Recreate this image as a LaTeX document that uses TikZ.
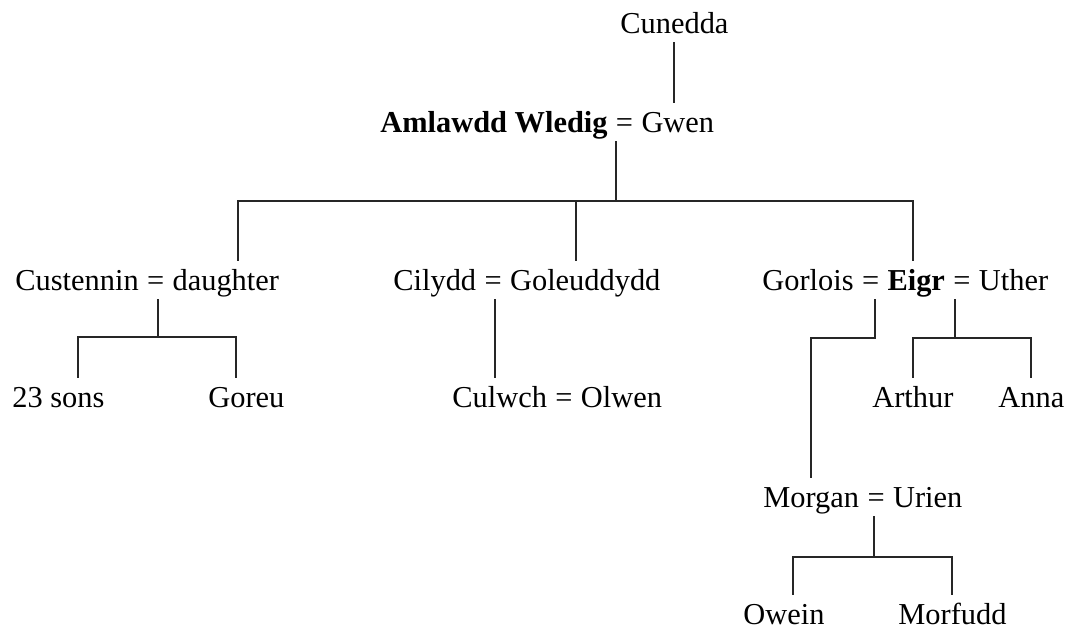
\documentclass[tikz,border=0pt]{standalone}
\usepackage{fontspec}
\setmainfont{Liberation Serif}
\begin{document}
\begin{tikzpicture}[x=0.5pt,y=-0.5pt,
  nm/.style={inner xsep=0pt, inner ysep=4.5pt, text height=10pt, text depth=0pt,
             anchor=base west, font=\fontsize{15.2}{18}\selectfont},
  eq/.style={nm, inner xsep=3.8pt},
  bnm/.style={nm, font=\fontsize{15.2}{18}\selectfont\bfseries},
  ln/.style={line width=1pt, draw=black!85}]
\useasboundingbox (0,0) rectangle (1068,629);
% row 0
\node[nm] (cunedda) at (620,33) {Cunedda};
% row 1
\node[bnm] (aw) at (380,132) {Amlawdd Wledig};
\node[eq] (ae) at (aw.base east) {=};
\node[nm] (gwen) at (ae.base east) {Gwen};
% row 2
\node[nm] (cust) at (15,290) {Custennin};
\node[eq] (ce) at (cust.base east) {=};
\node[nm] (daughter) at (ce.base east) {daughter};
\node[nm] (cilydd) at (393,290) {Cilydd};
\node[eq] (ce2) at (cilydd.base east) {=};
\node[nm] (goleu) at (ce2.base east) {Goleuddydd};
\node[nm] (gorlois) at (762,290) {Gorlois};
\node[eq] (ge1) at (gorlois.base east) {=};
\node[bnm] (eigr) at (ge1.base east) {Eigr};
\node[eq] (ge2) at (eigr.base east) {=};
\node[nm] (uther) at (ge2.base east) {Uther};
% row 3
\node[nm] (sons) at (12,407) {23 sons};
\node[nm] (goreu) at (208,407) {Goreu};
\node[nm] (culwch) at (452,407) {Culwch};
\node[eq] (cu2) at (culwch.base east) {=};
\node[nm] (olwen) at (cu2.base east) {Olwen};
\node[nm] (arthur) at (872,407) {Arthur};
\node[nm] (anna) at (998,407) {Anna};
% row 4
\node[nm] (morgan) at (763,507) {Morgan};
\node[eq] (me) at (morgan.base east) {=};
\node[nm] (urien) at (me.base east) {Urien};
% row 5
\node[nm] (owein) at (743,624) {Owein};
\node[nm] (morfudd) at (898,624) {Morfudd};
% helper levels
\coordinate (bar) at (0,201);
\coordinate (cbar) at (0,337);
\coordinate (gbar) at (0,338);
\coordinate (mbar) at (0,557);
% connectors
\draw[ln] (cunedda.south) -- (cunedda.south |- gwen.north);
\coordinate (a0) at ([xshift=-4.5pt]ae.south);
\draw[ln] (a0) -- (a0 |- bar);
\coordinate (d1) at ([xshift=6pt]daughter.north);
\coordinate (e1) at ([xshift=-1.5pt]eigr.north);
\coordinate (g1) at ([xshift=-4.5pt]goleu.north);
\draw[ln] (d1) -- (d1 |- bar) -- (e1 |- bar) -- (e1);
\draw[ln] (g1) -- (g1 |- bar);
% Custennin
\coordinate (c0) at ([xshift=1.25pt]ce.south);
\draw[ln] (c0) -- (c0 |- cbar);
\coordinate (c1) at ([xshift=10pt]sons.north);
\coordinate (c2) at ([xshift=-5pt]goreu.north);
\draw[ln] (c1) -- (c1 |- cbar) -- (c2 |- cbar) -- (c2);
% Cilydd
\coordinate (k0) at ([xshift=1pt]ce2.south);
\draw[ln] (k0) -- (k0 |- culwch.north);
% Gorlois
\coordinate (g0) at ([xshift=2pt]ge1.south);
\draw[ln] (g0) -- (g0 |- gbar) -- (morgan.north |- gbar) -- (morgan.north);
% Uther
\coordinate (u0) at ([xshift=-3.5pt]ge2.south);
\draw[ln] (u0) -- (u0 |- gbar);
\draw[ln] (arthur.north) -- (arthur.north |- gbar) -- (anna.north |- gbar) -- (anna.north);
% Morgan
\coordinate (m0) at ([xshift=-1pt]me.south);
\draw[ln] (m0) -- (m0 |- mbar);
\coordinate (o1) at ([xshift=4.75pt]owein.north);
\draw[ln] (o1) -- (o1 |- mbar) -- (morfudd.north |- mbar) -- (morfudd.north);
\end{tikzpicture}
\end{document}
